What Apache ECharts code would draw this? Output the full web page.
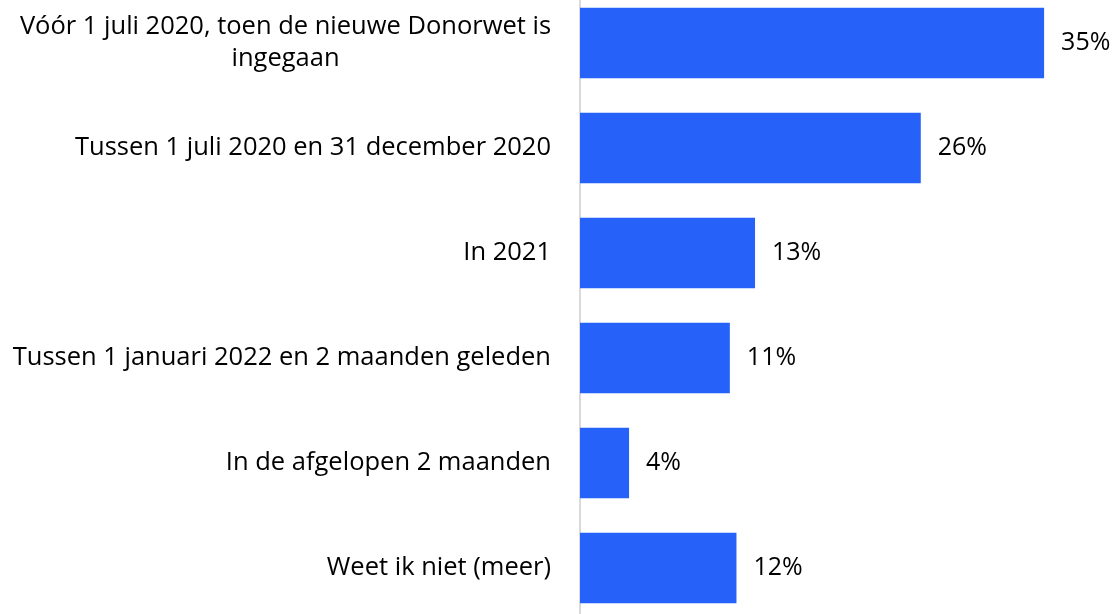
<!DOCTYPE html>
<html>
<head>
<meta charset="utf-8">
<script src="https://cdn.jsdelivr.net/npm/echarts@6/dist/echarts.min.js"></script>
<style>
html,body{margin:0;padding:0;background:#fff;}
#bar-wrapper{width:1117px;height:614px;}
</style>
</head>
<body>
<div id="bar-wrapper"></div>
<script>
// categories top to bottom
var categories=[
	"Vóór 1 juli 2020, toen de nieuwe Donorwet is\ningegaan",
	"Tussen 1 juli 2020 en 31 december 2020",
	"In 2021",
	"Tussen 1 januari 2022 en 2 maanden geleden",
	"In de afgelopen 2 maanden",
	"Weet ik niet (meer)"
];
// share in %
var values=[35.0,25.7,13.2,11.3,3.7,11.8];
var valueLabels=["35%","26%","13%","11%","4%","12%"];

var myChart=echarts.init(document.getElementById("bar-wrapper"));

function labelText(v){
	var parts=v.split("\n");
	if(parts.length>1){
		return "{c|"+parts[0]+"}\n{c|"+parts[1]+"}";
	}
	return v;
}

var option={
	animation:false,
	textStyle:{fontFamily:"Open Sans"},
	grid:{
		left:580,
		top:-9.5,
		height:630,
		width:530.4,
		outerBoundsMode:"none",
		containLabel:false
	},
	xAxis:{
		type:"value",
		min:0,
		max:40,
		show:false
	},
	yAxis:{
		type:"category",
		inverse:true,
		data:categories,
		axisTick:{show:false},
		axisLine:{show:true,lineStyle:{color:"#d9d9d9",width:2}},
		axisLabel:{
			margin:29,
			fontSize:25.5,
			color:"#000",
			formatter:labelText,
			rich:{
				c:{fontSize:25.5,color:"#000",width:531,align:"center",lineHeight:32,fontFamily:"Open Sans"}
			}
		}
	},
	series:[{
		type:"bar",
		data:values,
		barCategoryGap:"33%",
		itemStyle:{color:"#2662f9"},
		label:{
			show:true,
			position:"right",
			distance:17,
			fontSize:25,
			color:"#000",
			formatter:function(p){return valueLabels[p.dataIndex];}
		}
	}]
};

myChart.setOption(option);
</script>
</body>
</html>
